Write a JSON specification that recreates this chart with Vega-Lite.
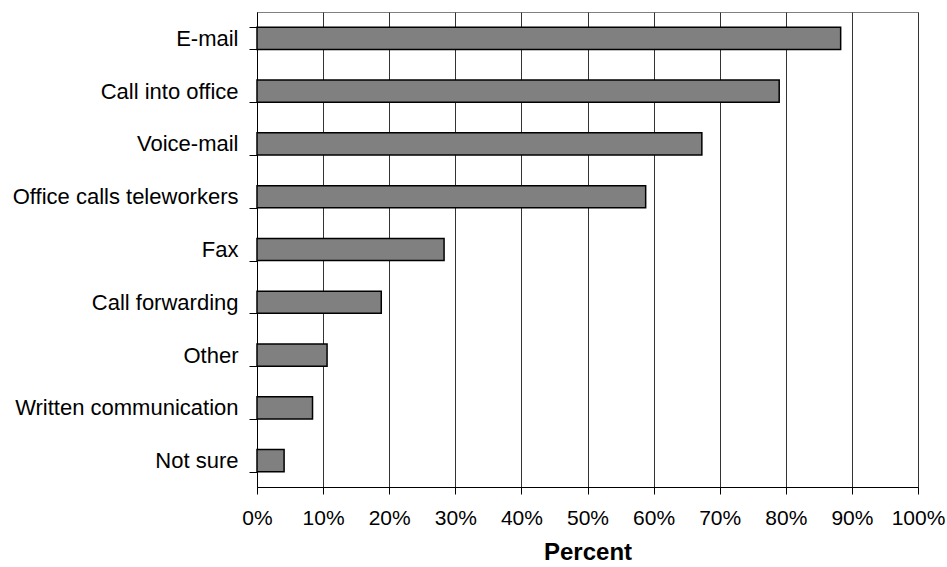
{
  "$schema": "https://vega.github.io/schema/vega-lite/v6.json",
  "width": 661,
  "height": 475,
  "autosize": "none",
  "padding": {"left": 257, "top": 12, "right": 29, "bottom": 80},
  "background": "white",
  "config": {
    "view": {"stroke": "#808080", "strokeWidth": 1},
    "font": "Liberation Sans"
  },
  "data": {
    "values": [
      {"method": "E-mail", "percent": 88.3},
      {"method": "Call into office", "percent": 79.0},
      {"method": "Voice-mail", "percent": 67.3},
      {"method": "Office calls teleworkers", "percent": 58.8},
      {"method": "Fax", "percent": 28.3},
      {"method": "Call forwarding", "percent": 18.8},
      {"method": "Other", "percent": 10.6},
      {"method": "Written communication", "percent": 8.4},
      {"method": "Not sure", "percent": 4.1}
    ]
  },
  "mark": {"type": "bar", "fill": "#808080", "stroke": "black", "strokeWidth": 1.5},
  "encoding": {
    "y": {
      "field": "method",
      "type": "nominal",
      "sort": null,
      "scale": {"paddingInner": 0.58, "paddingOuter": 0.29},
      "axis": {
        "title": null,
        "tickBand": "extent",
        "domainColor": "black",
        "domainWidth": 1,
        "tickColor": "black",
        "tickSize": 8,
        "labelFontSize": 22,
        "labelColor": "black",
        "labelPadding": 11,
        "labelLimit": 400,
        "labelFont": "Liberation Sans"
      }
    },
    "x": {
      "field": "percent",
      "type": "quantitative",
      "scale": {"domain": [0, 100], "nice": false},
      "axis": {
        "values": [0, 10, 20, 30, 40, 50, 60, 70, 80, 90, 100],
        "labelExpr": "datum.value + '%'",
        "title": "Percent",
        "titleFontSize": 24,
        "titleFontWeight": "bold",
        "titleColor": "black",
        "titlePadding": 12,
        "titleFont": "Liberation Sans",
        "grid": true,
        "gridColor": "#333333",
        "gridWidth": 1,
        "gridOpacity": 1,
        "domainColor": "black",
        "tickColor": "black",
        "tickSize": 7,
        "labelFontSize": 21,
        "labelColor": "black",
        "labelPadding": 13,
        "labelFont": "Liberation Sans",
        "labelFlush": false
      }
    }
  }
}
